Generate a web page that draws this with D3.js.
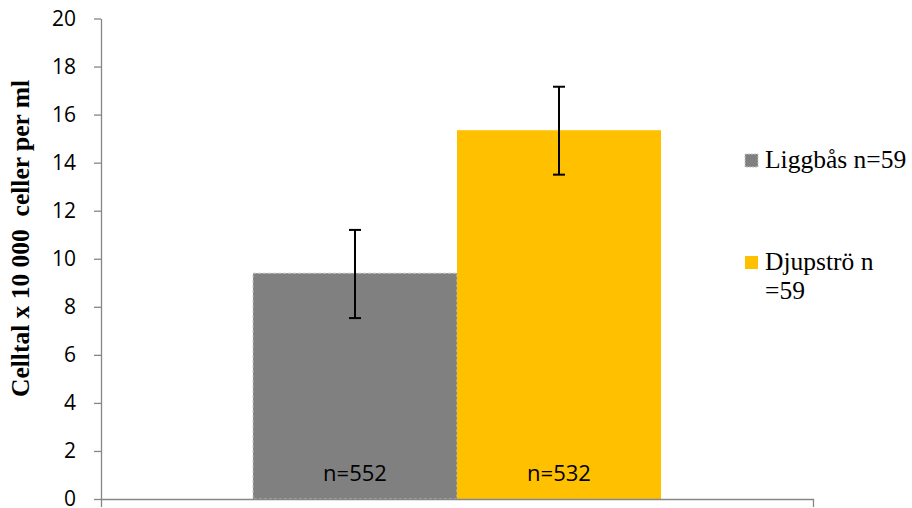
<!DOCTYPE html>
<html>
<head>
<meta charset="utf-8">
<script src="https://cdn.jsdelivr.net/npm/d3@7"></script>
<style>
  html, body { margin: 0; padding: 0; background: #fff; }
  svg { display: block; }
</style>
</head>
<body>
<svg id="chart" width="912" height="508"></svg>
<script>
const series = ["Liggbås n=59", "Djupströ n =59"];
const legendLines = [["Liggbås n=59"], ["Djupströ n", "=59"]];
const means = [9.4, 15.35];
const errLow = [7.53, 13.5];
const errHigh = [11.2, 17.16];
const nLabels = ["n=552", "n=532"];
const yTicks = [0, 2, 4, 6, 8, 10, 12, 14, 16, 18, 20];
const colors = ["#808080", "#ffc000"];
const yTitle = "Celltal x 10 000  celler per ml";

const svg = d3.select("#chart");
const y = d3.scaleLinear().domain([0, 20]).range([499, 18.5]);
const x = d3.scaleBand().domain(series).range([101, 813]).paddingInner(0).paddingOuter(0.745);

// y axis
const yAxis = d3.axisLeft(y).tickValues(yTicks).tickSize(7).tickSizeOuter(0).tickPadding(18);
const gy = svg.append("g").attr("transform", "translate(101,0)").call(yAxis);
gy.select(".domain").attr("stroke", "#868686").attr("stroke-width", 1.3);
gy.selectAll(".tick line").attr("stroke", "#868686").attr("stroke-width", 1.3);
gy.selectAll(".tick text")
  .attr("font-family", "'Open Sans', sans-serif")
  .attr("font-size", 21)
  .attr("fill", "#000");

// x axis
const xAxis = d3.axisBottom(x).tickValues([]).tickSizeOuter(8);
const gx = svg.append("g").attr("transform", "translate(0,499)").call(xAxis);
gx.select(".domain").attr("stroke", "#868686").attr("stroke-width", 1.3);

// bars
svg.append("g").selectAll("rect")
  .data(series)
  .join("rect")
  .attr("x", d => x(d))
  .attr("y", (d, i) => y(means[i]))
  .attr("width", x.bandwidth())
  .attr("height", (d, i) => y(0) - y(means[i]))
  .attr("fill", (d, i) => colors[i])
  .attr("stroke", (d, i) => i === 0 ? "#c8c8c8" : "none")
  .attr("stroke-dasharray", "3,2")
  .attr("stroke-width", 1);

// redraw x axis on top so the line is visible over bars
svg.node().appendChild(gx.node());

// error bars
const eb = svg.append("g").attr("stroke", "#000").attr("stroke-width", 2);
series.forEach((s, i) => {
  const cx = x(s) + x.bandwidth() / 2;
  eb.append("line").attr("x1", cx).attr("x2", cx).attr("y1", y(errLow[i])).attr("y2", y(errHigh[i]));
  eb.append("line").attr("x1", cx - 6).attr("x2", cx + 6).attr("y1", y(errLow[i])).attr("y2", y(errLow[i]));
  eb.append("line").attr("x1", cx - 6).attr("x2", cx + 6).attr("y1", y(errHigh[i])).attr("y2", y(errHigh[i]));
});

// n labels
svg.append("g").selectAll("text")
  .data(series)
  .join("text")
  .attr("x", d => x(d) + x.bandwidth() / 2)
  .attr("y", 481)
  .attr("text-anchor", "middle")
  .attr("font-family", "'Open Sans', sans-serif")
  .attr("font-size", 22)
  .attr("fill", "#000")
  .text((d, i) => nLabels[i]);

// y title
svg.append("text")
  .attr("transform", "translate(29,238.5) rotate(-90)")
  .attr("text-anchor", "middle")
  .attr("font-family", "'Liberation Serif', 'Times New Roman', serif")
  .attr("font-weight", "bold")
  .attr("font-size", 25.5)
  .attr("fill", "#000")
  .style("white-space", "pre")
  .text(yTitle);

// legend
const legendY = [168, 270];
const lg = svg.append("g");
series.forEach((s, i) => {
  lg.append("rect")
    .attr("x", 745).attr("y", legendY[i] - 14)
    .attr("width", 13).attr("height", 13)
    .attr("fill", colors[i])
    .attr("stroke", i === 0 ? "#c8c8c8" : "none")
    .attr("stroke-dasharray", "2,1");
  const t = lg.append("text")
    .attr("x", 765).attr("y", legendY[i])
    .attr("font-family", "'Liberation Serif', 'Times New Roman', serif")
    .attr("font-size", 25.5)
    .attr("fill", "#000");
  legendLines[i].forEach((line, j) => {
    t.append("tspan").attr("x", 765).attr("dy", j === 0 ? 0 : 29).text(line);
  });
});
</script>
</body>
</html>
